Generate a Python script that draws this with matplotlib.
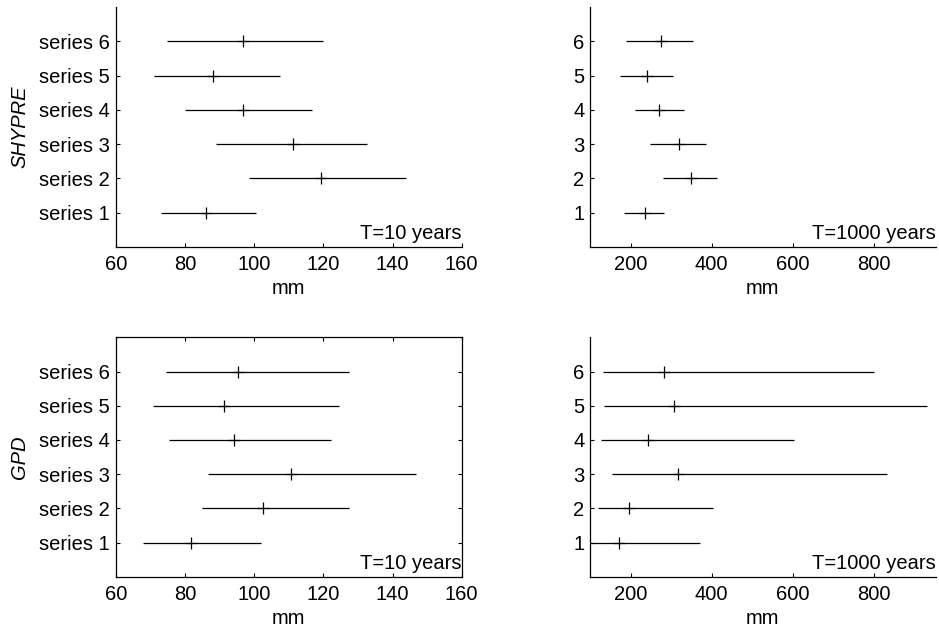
import matplotlib
matplotlib.use("Agg")
import matplotlib.pyplot as plt
import numpy as np

plt.rcParams["font.family"] = ["Liberation Sans", "DejaVu Sans"]
plt.rcParams["font.size"] = 14.5

series = [1, 2, 3, 4, 5, 6]
series_labels = [f"series {i}" for i in series]

# SHYPRE, T=10 years: lower bound, estimate, upper bound (mm)
shypre_10_lo = [73.1, 98.5, 89.0, 79.9, 71.1, 74.7]
shypre_10_mid = [86.0, 119.2, 111.1, 96.9, 88.0, 96.7]
shypre_10_hi = [100.5, 143.8, 132.7, 116.6, 107.5, 120.0]

# SHYPRE, T=1000 years
shypre_1000_lo = [184, 281, 248, 211, 175, 189]
shypre_1000_mid = [236, 349, 320, 271, 241, 274]
shypre_1000_hi = [283, 414, 387, 332, 305, 353]

# GPD, T=10 years
gpd_10_lo = [67.8, 85.0, 86.8, 75.5, 70.7, 74.5]
gpd_10_mid = [81.7, 102.7, 110.7, 94.2, 91.4, 95.4]
gpd_10_hi = [101.9, 127.3, 146.9, 122.1, 124.4, 127.3]

# GPD, T=1000 years
gpd_1000_lo = [95, 120, 155, 127, 134, 133]
gpd_1000_mid = [171, 195, 316, 244, 307, 282]
gpd_1000_hi = [371, 402, 831, 604, 930, 799]

W, H = 939, 624
fig = plt.figure(figsize=(W / 100, H / 100), dpi=100)


def px_rect(x0, y0, x1, y1):
    return [x0 / W, 1 - y1 / H, (x1 - x0) / W, (y1 - y0) / H]


def draw_panel(rect, lo, mid, hi, xlim, xticks, ytick_labels, period, ylabel=None, box=False):
    ax = fig.add_axes(rect)
    ax.hlines(series, lo, hi, color="black", lw=0.9)
    ax.plot(mid, series, "+", color="black", ms=8, mew=0.9)
    ax.set_xlim(*xlim)
    ax.set_ylim(0, 7)
    ax.set_xticks(xticks)
    ax.set_yticks(series)
    ax.set_yticklabels(ytick_labels)
    ax.tick_params(direction="in", length=3, width=0.8, pad=6, top=box, right=box)
    ax.tick_params(axis="y", pad=4)
    for side in ("top", "right"):
        ax.spines[side].set_visible(box)
    for sp in ax.spines.values():
        sp.set_linewidth(0.9)
    ax.set_xlabel("mm")
    ax.xaxis.set_label_coords(0.5, -0.135)
    if ylabel:
        ax.set_ylabel(ylabel, style="italic")
        ax.yaxis.set_label_coords(-0.25, 0.5)
    ax.text(1.0, 0.015, f"T={period} years", ha="right", va="bottom",
            transform=ax.transAxes)
    return ax


draw_panel(px_rect(115.7, 7, 461.7, 247), shypre_10_lo, shypre_10_mid, shypre_10_hi,
           (60, 160), [60, 80, 100, 120, 140, 160], series_labels, 10, ylabel="SHYPRE")
draw_panel(px_rect(590, 7, 935.7, 247), shypre_1000_lo, shypre_1000_mid, shypre_1000_hi,
           (100, 952), [200, 400, 600, 800], series, 1000)
draw_panel(px_rect(115.7, 337.3, 461.7, 576.7), gpd_10_lo, gpd_10_mid, gpd_10_hi,
           (60, 160), [60, 80, 100, 120, 140, 160], series_labels, 10, ylabel="GPD", box=True)
draw_panel(px_rect(590, 337.3, 935.7, 576.7), gpd_1000_lo, gpd_1000_mid, gpd_1000_hi,
           (100, 952), [200, 400, 600, 800], series, 1000)

fig.savefig("out.png", dpi=100)
